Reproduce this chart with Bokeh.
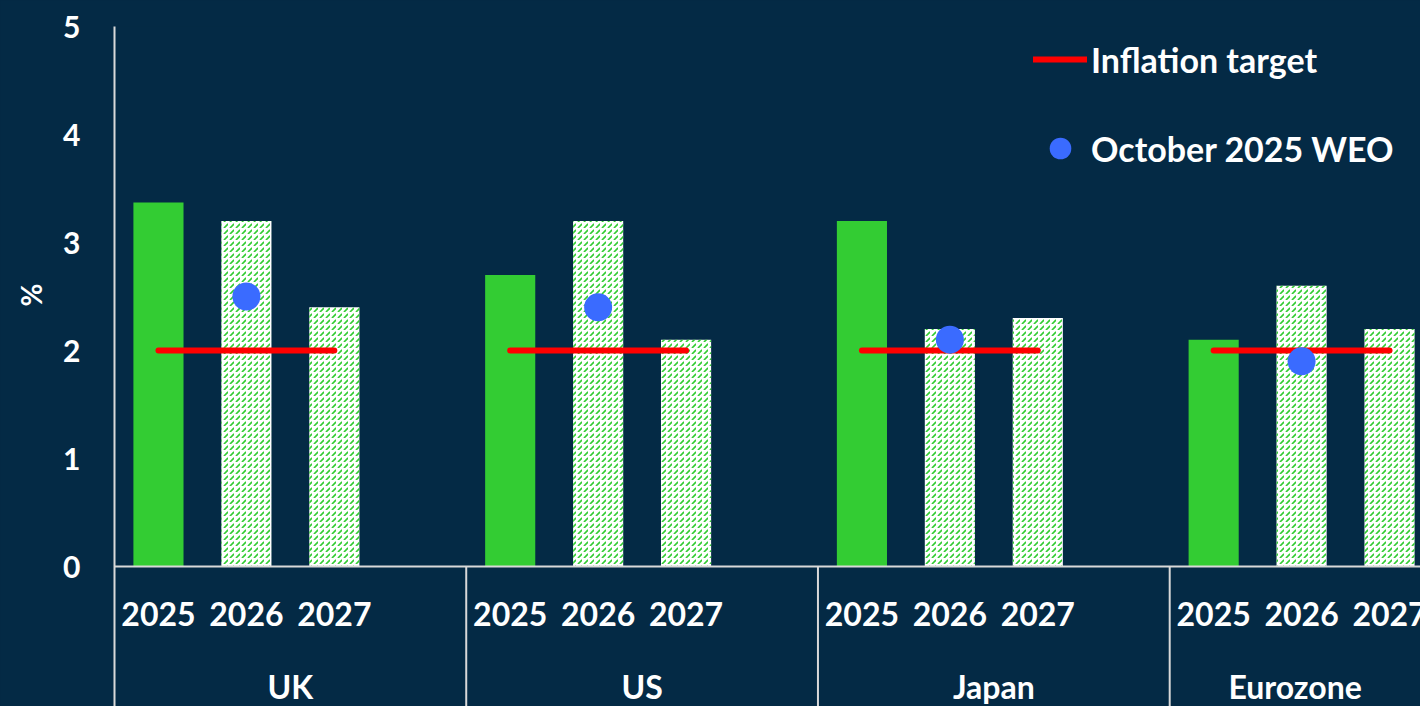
from bokeh.plotting import figure
from bokeh.models import Range1d, FixedTicker, Span, Title, Legend, LegendItem
from bokeh.embed import file_html
from bokeh.resources import INLINE
from bokeh.core.properties import value

# ---------------- data ----------------
countries = ["UK", "US", "Japan", "Eurozone"]
years = ["2025", "2026", "2027"]
v2025 = [3.37, 2.7, 3.2, 2.1]
v2026 = [3.2, 3.2, 2.2, 2.6]
v2027 = [2.4, 2.1, 2.3, 2.2]
weo_oct2025 = [2.5, 2.4, 2.1, 1.9]      # October 2025 WEO, for 2026
inflation_target = [2.0, 2.0, 2.0, 2.0]
y_ticks = [0, 1, 2, 3, 4, 5]

# ---------------- layout constants ----------------
BG = "#042A45"
GREEN = "#33CC33"
RED = "#FF0000"
BLUE = "#3A6BFF"
AXIS = "#D9D9D9"
FONT = "Lato"
W, H = 1420, 706
LEFT, TOP = 113, 26
SLOTS = 4            # 3 year bars + one empty slot per country
X_MAX = (W - LEFT) / 88.0
Y_MIN, Y_MAX = -(H - 566) / 108.0, 5.0
BAR_W = 0.57

n = len(countries)
x25 = [i * SLOTS + 0.5 for i in range(n)]
x26 = [i * SLOTS + 1.5 for i in range(n)]
x27 = [i * SLOTS + 2.5 for i in range(n)]

p = figure(width=W, height=H, output_backend="svg", toolbar_location=None,
           x_range=Range1d(0, X_MAX), y_range=Range1d(Y_MIN, Y_MAX),
           x_axis_type=None, min_border_left=LEFT, min_border_right=0,
           min_border_top=TOP, min_border_bottom=0)
p.background_fill_color = BG
p.border_fill_color = BG
p.outline_line_color = None
p.grid.visible = False

# bars
p.vbar(x=x25, top=v2025, bottom=0, width=BAR_W, fill_color=GREEN, line_color=None)
hatch = dict(fill_color="white", line_color=None, hatch_pattern="right_diagonal_dash",
             hatch_color=GREEN, hatch_scale=6, hatch_weight=1.6)
p.vbar(x=x26, top=v2026, bottom=0, width=BAR_W, **hatch)
p.vbar(x=x27, top=v2027, bottom=0, width=BAR_W, **hatch)

# inflation target lines
seg = p.segment(x0=x25, x1=x27, y0=inflation_target, y1=inflation_target,
                line_color=RED, line_width=6, line_cap="round")

# WEO dots
dots = p.scatter(x=x26, y=weo_oct2025, size=28, fill_color=BLUE, line_color=None)

# x axis line and group dividers
p.add_layout(Span(location=0, dimension="width", line_color=AXIS, line_width=2))
dividers = [i * SLOTS for i in range(1, n)]
p.segment(x0=dividers, x1=dividers, y0=[0] * len(dividers), y1=[Y_MIN] * len(dividers),
          line_color=AXIS, line_width=2)

# category labels
xs_years, ys_years, t_years = [], [], []
for i in range(n):
    for j, yr in enumerate(years):
        xs_years.append(i * SLOTS + j + 0.5)
        ys_years.append(-0.444)
        t_years.append(yr)
p.text(x=xs_years, y=ys_years, text=t_years, text_color="white",
       text_font=value(FONT), text_font_style="bold", text_font_size="32px",
       text_align="center", text_baseline="middle")

xs_c = []
for i in range(n):
    g0 = i * SLOTS
    g1 = min((i + 1) * SLOTS, X_MAX)
    xs_c.append((g0 + g1) / 2)
p.text(x=xs_c, y=[-1.111] * n, text=countries, text_color="white",
       text_font=value(FONT), text_font_style="bold", text_font_size="32px",
       text_align="center", text_baseline="middle")

# y axis
ya = p.yaxis[0]
ya.ticker = FixedTicker(ticks=y_ticks)
ya.axis_line_color = AXIS
ya.axis_line_width = 2
ya.major_tick_out = 0
ya.major_tick_in = 0
ya.minor_tick_out = 0
ya.minor_tick_in = 0
ya.major_label_standoff = 34
ya.major_label_text_color = "white"
ya.major_label_text_font = FONT
ya.major_label_text_font_style = "bold"
ya.major_label_text_font_size = "30px"

# y-axis unit label, centred on the 0..5 value span
p.add_layout(Title(text="%", align="left", offset=400, vertical_align="middle",
                   text_color="white", text_font=FONT, text_font_style="bold",
                   text_font_size="28px", standoff=24), "left")

legend = Legend(items=[LegendItem(label="Inflation target", renderers=[seg]),
                       LegendItem(label="October 2025 WEO", renderers=[dots])],
                location=(919, 529), orientation="vertical",
                glyph_width=54, glyph_height=58, spacing=31, label_standoff=4,
                padding=0, margin=0, border_line_color=None, background_fill_alpha=0,
                label_text_color="white", label_text_font=FONT,
                label_text_font_style="bold", label_text_font_size="34px")
p.add_layout(legend)

template = """
{% block postamble %}
<style>html, body { margin: 0; padding: 0; overflow: hidden; background-color: #042A45; }</style>
{% endblock %}
"""
open("out.html", "w").write(file_html(p, INLINE, template=template))
